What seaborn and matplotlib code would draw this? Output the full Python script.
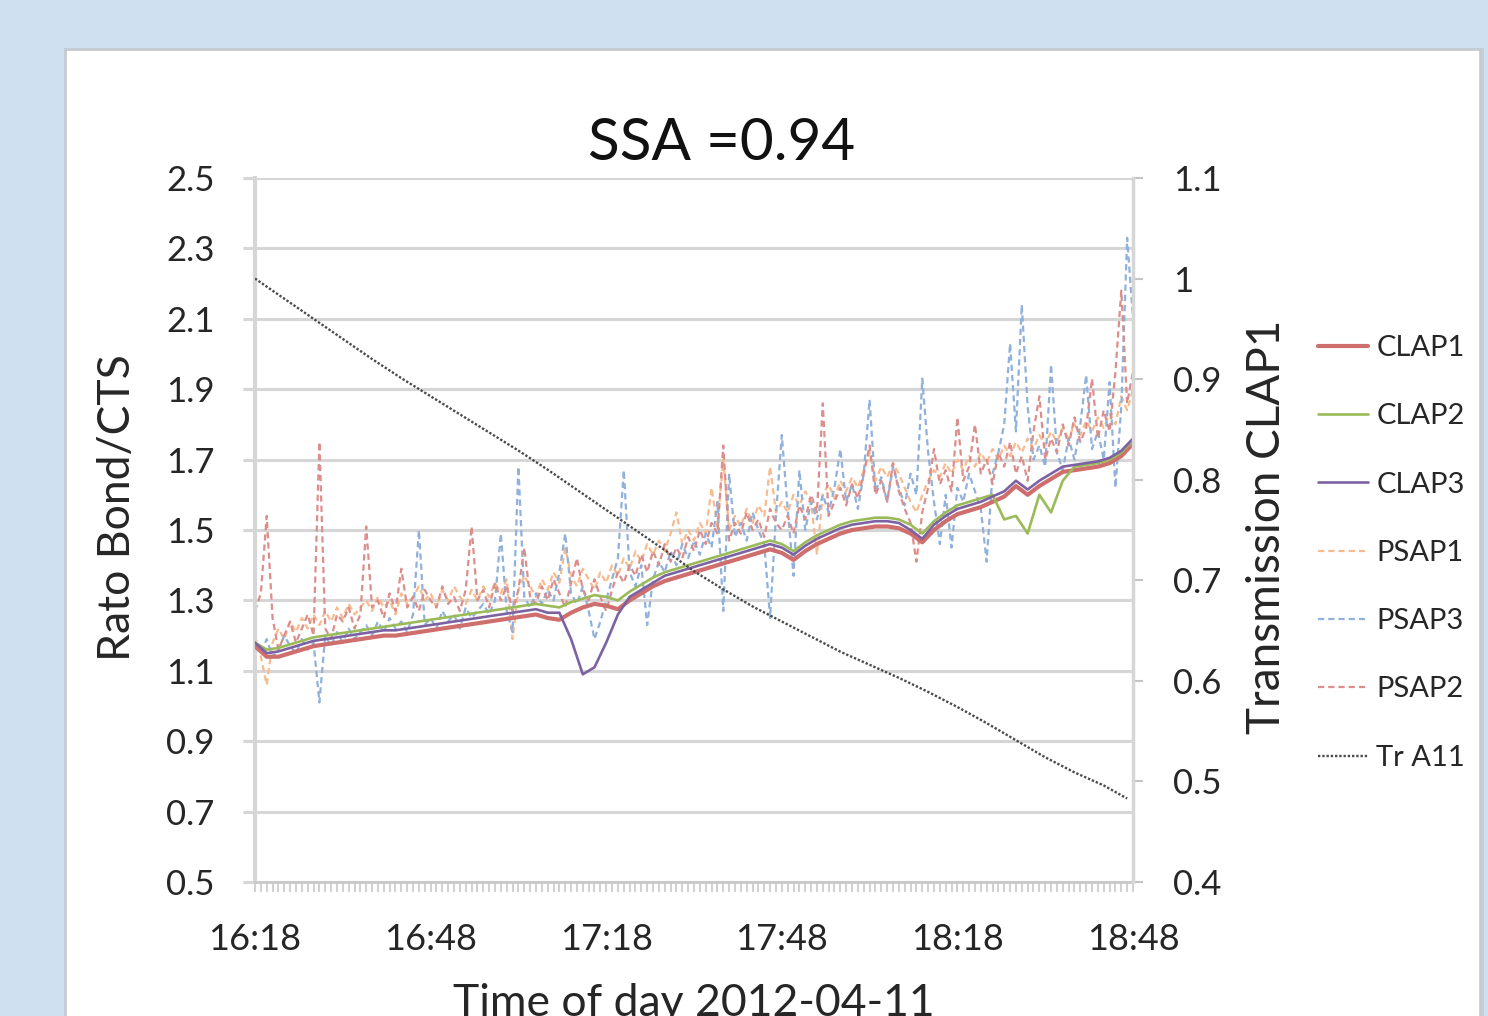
import numpy as np
import pandas as pd
import matplotlib
matplotlib.use("Agg")
import matplotlib.pyplot as plt
from matplotlib.patches import Rectangle
from matplotlib.ticker import MultipleLocator
import seaborn as sns

# ---------------------------------------------------------------- data
start = pd.Timestamp("2012-04-11 16:18")
tick_labels = ["16:18", "16:48", "17:18", "17:48", "18:18", "18:48"]

# CLAP readings, one every 2 minutes from 16:18
clap_minutes = np.arange(0, 151, 2)
clap1 = [1.17, 1.14, 1.14, 1.15, 1.16, 1.17, 1.175, 1.18, 1.185, 1.19,
         1.195, 1.20, 1.20, 1.205, 1.21, 1.215, 1.22, 1.225, 1.23, 1.235,
         1.24, 1.245, 1.25, 1.255, 1.26, 1.25, 1.245, 1.265, 1.28, 1.29,
         1.285, 1.275, 1.30, 1.32, 1.34, 1.355, 1.365, 1.375, 1.385, 1.395,
         1.405, 1.415, 1.425, 1.435, 1.445, 1.435, 1.415, 1.44, 1.46, 1.475,
         1.49, 1.50, 1.505, 1.51, 1.51, 1.505, 1.49, 1.465, 1.50, 1.525,
         1.545, 1.555, 1.565, 1.58, 1.595, 1.625, 1.60, 1.625, 1.645, 1.665,
         1.67, 1.675, 1.68, 1.69, 1.71, 1.745]
clap2 = [1.18, 1.16, 1.165, 1.175, 1.185, 1.195, 1.20, 1.205, 1.21, 1.215,
         1.22, 1.225, 1.23, 1.235, 1.24, 1.245, 1.25, 1.255, 1.26, 1.265,
         1.27, 1.275, 1.28, 1.285, 1.29, 1.285, 1.28, 1.295, 1.305, 1.315,
         1.31, 1.30, 1.325, 1.345, 1.365, 1.38, 1.39, 1.40, 1.41, 1.42,
         1.43, 1.44, 1.45, 1.46, 1.47, 1.46, 1.44, 1.465, 1.485, 1.50,
         1.515, 1.525, 1.53, 1.535, 1.535, 1.53, 1.515, 1.49, 1.525, 1.55,
         1.57, 1.58, 1.59, 1.60, 1.53, 1.54, 1.49, 1.60, 1.55, 1.64,
         1.68, 1.685, 1.69, 1.70, 1.72, 1.755]
clap3 = [1.18, 1.15, 1.155, 1.165, 1.175, 1.185, 1.19, 1.195, 1.20, 1.205,
         1.21, 1.215, 1.215, 1.22, 1.225, 1.23, 1.235, 1.24, 1.245, 1.25,
         1.255, 1.26, 1.265, 1.27, 1.275, 1.265, 1.265, 1.19, 1.09, 1.11,
         1.18, 1.26, 1.31, 1.33, 1.35, 1.37, 1.38, 1.39, 1.40, 1.41,
         1.42, 1.43, 1.44, 1.45, 1.46, 1.45, 1.43, 1.455, 1.475, 1.49,
         1.505, 1.515, 1.52, 1.525, 1.525, 1.52, 1.50, 1.475, 1.515, 1.54,
         1.56, 1.57, 1.58, 1.595, 1.61, 1.64, 1.615, 1.64, 1.66, 1.68,
         1.685, 1.69, 1.695, 1.705, 1.725, 1.76]

# PSAP readings, one per minute from 16:18
psap_minutes = np.arange(0, 151)
psap1 = [1.20, 1.14, 1.06, 1.18, 1.22, 1.19, 1.24, 1.21, 1.25, 1.22,
         1.26, 1.23, 1.27, 1.24, 1.28, 1.25, 1.29, 1.26, 1.28, 1.30,
         1.27, 1.31, 1.28, 1.30, 1.26, 1.32, 1.29, 1.31, 1.34, 1.30,
         1.32, 1.28, 1.33, 1.30, 1.34, 1.31, 1.29, 1.33, 1.30, 1.34,
         1.31, 1.35, 1.32, 1.36, 1.19, 1.33, 1.37, 1.34, 1.31, 1.36,
         1.33, 1.38, 1.35, 1.45, 1.37, 1.34, 1.39, 1.36, 1.33, 1.38,
         1.35, 1.40, 1.37, 1.42, 1.39, 1.44, 1.41, 1.46, 1.43, 1.47,
         1.44, 1.49, 1.55, 1.46, 1.50, 1.47, 1.52, 1.49, 1.62, 1.51,
         1.70, 1.50, 1.54, 1.51, 1.56, 1.52, 1.57, 1.54, 1.68, 1.55,
         1.58, 1.55, 1.60, 1.57, 1.61, 1.58, 1.43, 1.60, 1.63, 1.59,
         1.64, 1.61, 1.65, 1.62, 1.67, 1.72, 1.64, 1.68, 1.65, 1.69,
         1.66, 1.62, 1.58, 1.55, 1.60, 1.64, 1.67, 1.65, 1.69, 1.66,
         1.70, 1.67, 1.71, 1.68, 1.72, 1.69, 1.73, 1.70, 1.74, 1.71,
         1.75, 1.72, 1.76, 1.73, 1.77, 1.74, 1.78, 1.75, 1.79, 1.76,
         1.80, 1.77, 1.81, 1.78, 1.82, 1.79, 1.83, 1.80, 1.88, 1.84, 1.90]
psap3 = [1.17, 1.15, 1.19, 1.14, 1.16, 1.20, 1.17, 1.15, 1.19, 1.16,
         1.18, 1.01, 1.20, 1.17, 1.21, 1.18, 1.22, 1.19, 1.21, 1.23,
         1.20, 1.24, 1.21, 1.25, 1.22, 1.24, 1.21, 1.26, 1.50, 1.23,
         1.25, 1.22, 1.27, 1.24, 1.26, 1.22, 1.28, 1.25, 1.27, 1.29,
         1.26, 1.30, 1.49, 1.27, 1.21, 1.68, 1.31, 1.28, 1.32, 1.29,
         1.33, 1.30, 1.38, 1.49, 1.32, 1.29, 1.34, 1.27, 1.19, 1.24,
         1.30, 1.36, 1.42, 1.67, 1.38, 1.34, 1.40, 1.23, 1.36, 1.41,
         1.38, 1.44, 1.40, 1.46, 1.42, 1.47, 1.43, 1.49, 1.45, 1.58,
         1.27, 1.66, 1.48, 1.52, 1.47, 1.55, 1.50, 1.46, 1.25, 1.54,
         1.77, 1.56, 1.37, 1.67, 1.50, 1.58, 1.53, 1.60, 1.55, 1.62,
         1.73, 1.58, 1.63, 1.56, 1.66, 1.87, 1.61, 1.65, 1.58, 1.68,
         1.62, 1.57, 1.66, 1.60, 1.93, 1.72, 1.58, 1.46, 1.60, 1.45,
         1.62, 1.58, 1.66, 1.61, 1.56, 1.41, 1.66, 1.72, 1.80, 2.03,
         1.78, 2.14, 1.85, 1.70, 1.74, 1.68, 1.97, 1.72, 1.67, 1.76,
         1.70, 1.80, 1.94, 1.73, 1.78, 1.70, 1.92, 1.62, 1.85, 2.33, 2.10]
psap2 = [1.27, 1.32, 1.54, 1.25, 1.16, 1.20, 1.24, 1.18, 1.22, 1.26,
         1.20, 1.75, 1.22, 1.19, 1.26, 1.24, 1.28, 1.22, 1.26, 1.51,
         1.28, 1.30, 1.25, 1.32, 1.27, 1.39, 1.28, 1.31, 1.27, 1.33,
         1.30, 1.28, 1.34, 1.29, 1.31, 1.27, 1.33, 1.51, 1.30, 1.33,
         1.28, 1.35, 1.30, 1.34, 1.27, 1.33, 1.45, 1.31, 1.29, 1.34,
         1.30, 1.36, 1.32, 1.28, 1.35, 1.42, 1.33, 1.30, 1.36, 1.31,
         1.27, 1.33, 1.38, 1.35, 1.40, 1.37, 1.43, 1.38, 1.44, 1.40,
         1.46, 1.41, 1.45, 1.42, 1.48, 1.44, 1.50, 1.46, 1.52, 1.49,
         1.74, 1.47, 1.52, 1.49, 1.55, 1.50, 1.53, 1.48, 1.56, 1.52,
         1.50, 1.54, 1.49, 1.57, 1.53, 1.60, 1.55, 1.86, 1.54, 1.58,
         1.62, 1.57, 1.63, 1.59, 1.66, 1.74, 1.60, 1.64, 1.58, 1.69,
         1.61, 1.56, 1.52, 1.41, 1.55, 1.62, 1.73, 1.63, 1.67, 1.61,
         1.82, 1.64, 1.68, 1.80, 1.66, 1.70, 1.63, 1.72, 1.68, 1.75,
         1.66, 1.71, 1.64, 1.78, 1.88, 1.70, 1.76, 1.72, 1.80, 1.74,
         1.82, 1.75, 1.79, 1.93, 1.76, 1.84, 1.78, 1.95, 2.18, 1.86, 1.95]

# filter transmission, every 5 minutes
tr_minutes = [0, 5, 10, 15, 20, 25, 30, 35, 40, 45, 50, 55, 60, 65, 70, 75,
              80, 85, 90, 95, 100, 105, 110, 115, 120, 125, 130, 135, 140,
              145, 149]
tr_a11 = [1.000, 0.980, 0.960, 0.940, 0.920, 0.901, 0.883, 0.865, 0.847,
          0.829, 0.810, 0.790, 0.770, 0.750, 0.730, 0.709, 0.691, 0.674,
          0.659, 0.644, 0.629, 0.616, 0.603, 0.589, 0.574, 0.558, 0.541,
          0.524, 0.509, 0.496, 0.483]

# ---------------------------------------------------------------- style
sns.set_style("white")
plt.rcParams["font.family"] = ["Lato", "DejaVu Sans"]
TXT = "#262626"
GRID = "#d6d6d6"

W, H = 1488, 1016
fig = plt.figure(figsize=(W / 100, H / 100), dpi=100)
fig.patch.set_facecolor("#cfe0f1")

# white slide panel with a soft edge, kept behind the axes
fig.patches.append(Rectangle((64 / W, -0.2), 1420 / W, 1.2 - 48 / H,
                             transform=fig.transFigure, facecolor="#b9c3cc",
                             edgecolor="none", alpha=0.6, zorder=-2))
fig.patches.append(Rectangle((66 / W, -0.2), 1414 / W, 1.2 - 50 / H,
                             transform=fig.transFigure, facecolor="white",
                             edgecolor="#c8c8c8", linewidth=1.2, zorder=-1))

ax = fig.add_axes([255 / W, 1 - 882 / H, 878 / W, 704 / H])
ax.set_facecolor("none")

psap_styles = [("PSAP1", psap1, "#f8bb8e"),
               ("PSAP3", psap3, "#8fb1dc"),
               ("PSAP2", psap2, "#dc8e8c")]
clap_styles = [("CLAP1", clap1, "#cf6f6d", 3.0),
               ("CLAP2", clap2, "#9bbb59", 1.9),
               ("CLAP3", clap3, "#7d62a3", 1.9)]

handles = {}
for name, vals, col in psap_styles:
    sns.lineplot(x=psap_minutes, y=vals, ax=ax, color=col, lw=1.6,
                 label=name, zorder=2)
    ln = ax.lines[-1]
    ln.set_dashes([2.8, 1.8])
    handles[name] = ln
for name, vals, col, lw in clap_styles:
    sns.lineplot(x=clap_minutes, y=vals, ax=ax, color=col, lw=lw,
                 label=name, zorder=3)
    handles[name] = ax.lines[-1]
if ax.get_legend() is not None:
    ax.get_legend().remove()

ax.set_xlim(0, 150)
ax.set_ylim(0.5, 2.5)
yt = np.round(np.arange(0.5, 2.51, 0.2), 1)
ax.set_yticks(yt)
ax.set_yticklabels([f"{v:.1f}" for v in yt])
tick_pos = [(pd.Timestamp(f"2012-04-11 {t}") - start).total_seconds() / 60
            for t in tick_labels]
ax.set_xticks(tick_pos)
ax.set_xticklabels(tick_labels)
ax.xaxis.set_minor_locator(MultipleLocator(1))
ax.set_xlabel("")
ax.set_ylabel("")
ax.yaxis.grid(True, color=GRID, lw=2.2)
ax.xaxis.grid(False)
ax.set_axisbelow(True)
for s in ["top", "right"]:
    ax.spines[s].set_visible(False)
ax.spines["left"].set_color(GRID)
ax.spines["left"].set_linewidth(3)
ax.spines["bottom"].set_color("#c9c9c9")
ax.spines["bottom"].set_linewidth(2)
ax.tick_params(axis="y", length=9, width=2.2, color=GRID, pad=20,
               labelsize=25, labelcolor=TXT, left=True)
ax.tick_params(axis="x", which="both", length=7.5, width=1.1,
               color="#c4c4c4", pad=22, labelsize=26, labelcolor=TXT,
               bottom=True)

ax2 = ax.twinx()
sns.lineplot(x=tr_minutes, y=tr_a11, ax=ax2, color="#4a4a4a", lw=1.7,
             label="Tr A11", zorder=4)
tr_line = ax2.lines[-1]
tr_line.set_dashes([1.0, 0.8])
handles["Tr A11"] = tr_line
if ax2.get_legend() is not None:
    ax2.get_legend().remove()
ax2.set_ylim(0.4, 1.1)
yt2 = np.round(np.arange(0.4, 1.11, 0.1), 1)
ax2.set_yticks(yt2)
ax2.set_yticklabels([f"{v:g}" for v in yt2])
ax2.set_ylabel("")
for s in ["top", "left", "bottom"]:
    ax2.spines[s].set_visible(False)
ax2.spines["right"].set_color(GRID)
ax2.spines["right"].set_linewidth(2.5)
ax2.tick_params(axis="y", length=7, width=1.5, color="#c4c4c4", pad=22,
                labelsize=25, labelcolor=TXT, right=True)
ax2.grid(False)

# texts
fig.text(722 / W, 1 - 143 / H, "SSA =0.94", ha="center", va="center",
         fontsize=42, color="#111111")
fig.text(117 / W, 1 - 508 / H, "Rato Bond/CTS", rotation=90, ha="center",
         va="center", fontsize=32, color=TXT)
fig.text(1267 / W, 1 - 527 / H, "Transmission CLAP1", rotation=90,
         ha="center", va="center", fontsize=33, color=TXT)
fig.text(694 / W, 1 - 1004 / H, "Time of day 2012-04-11", ha="center",
         va="center", fontsize=32, color=TXT)

order = ["CLAP1", "CLAP2", "CLAP3", "PSAP1", "PSAP3", "PSAP2", "Tr A11"]
leg = fig.legend([handles[k] for k in order], order, loc="upper left",
                 bbox_to_anchor=(1318 / W, 1 - 335 / H), frameon=False,
                 fontsize=21, handlelength=1.7, handletextpad=0.3,
                 labelspacing=1.45, borderpad=0, borderaxespad=0)
for t in leg.get_texts():
    t.set_color(TXT)

fig.savefig("out.png", dpi=100, facecolor=fig.get_facecolor())
